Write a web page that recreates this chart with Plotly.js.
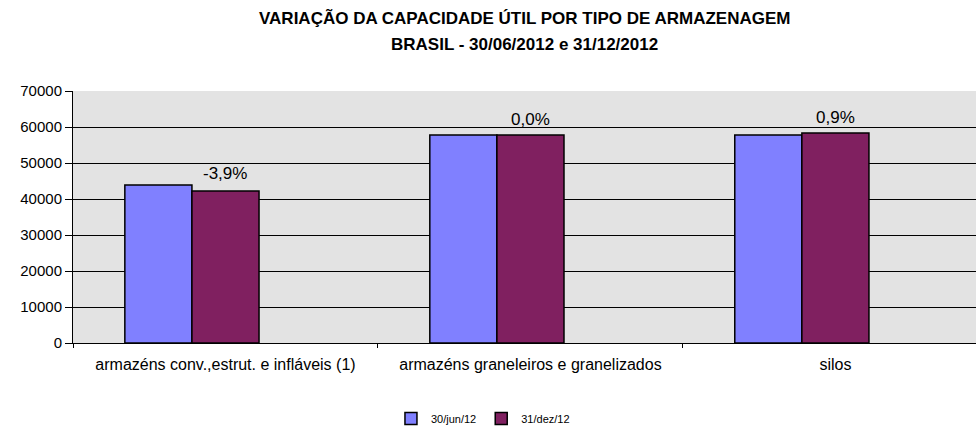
<!DOCTYPE html>
<html>
<head>
<meta charset="utf-8">
<script src="https://cdn.plot.ly/plotly-3.0.1.min.js"></script>
<style>html,body{margin:0;padding:0;background:#fff}#chart{width:976px;height:427px}</style>
</head>
<body>
<div id="chart"></div>
<script>
const categories = ["armazéns conv.,estrut. e infláveis (1)", "armazéns graneleiros e granelizados", "silos"];
const seriesNames = ["30/jun/12", "31/dez/12"];
const jun12 = [43900, 57800, 57800];
const dez12 = [42200, 57800, 58300];
const variation = ["-3,9%", "0,0%", "0,9%"];
const titleLines = ["VARIAÇÃO DA CAPACIDADE ÚTIL POR TIPO DE ARMAZENAGEM", "BRASIL - 30/06/2012 e 31/12/2012"];
const yTicks = [0, 10000, 20000, 30000, 40000, 50000, 60000, 70000];

const FONT = 'Liberation Sans, Arial, sans-serif';
const barW = 0.22;
const traces = [
  {type:'bar', name:seriesNames[0], x:categories, y:jun12, width:barW, offset:-1.5*barW,
   marker:{color:'#8080FF', line:{color:'#000', width:1.5}}, hoverinfo:'y'},
  {type:'bar', name:seriesNames[1], x:categories, y:dez12, width:barW, offset:-0.5*barW,
   marker:{color:'#802060', line:{color:'#000', width:1.5}}, hoverinfo:'y'}
];

const annotations = categories.map((c,i)=>({
  x:c, y:Math.max(jun12[i], dez12[i])*1.075, xref:'x', yref:'y', text:variation[i],
  showarrow:false, yanchor:'middle', font:{family:FONT, size:17, color:'#000'}
}));
[73, 47].forEach((s,i)=>annotations.push({
  xref:'paper', yref:'paper', x:0.5, y:1, xanchor:'center', yanchor:'middle', yshift:s,
  text:'<b>'+titleLines[i]+'</b>', showarrow:false, font:{family:FONT, size:17, color:'#000'}
}));

const layout = {
  width:976, height:427,
  margin:{l:73, r:0, t:91, b:84},
  paper_bgcolor:'#fff', plot_bgcolor:'#E3E3E3',
  font:{family:FONT, size:15, color:'#000'},
  barmode:'group',
  showlegend:true,
  legend:{orientation:'h', x:0.454, xanchor:'center', yref:'container', y:0.02, yanchor:'middle', font:{size:11}},
  xaxis:{range:[-0.5, 2.461], showline:true, linecolor:'#000', linewidth:1, ticks:'outside', tickson:'boundaries',
    ticklen:4, tickcolor:'#000', tickfont:{size:16}, ticklabelstandoff:7, fixedrange:true},
  yaxis:{range:[0,70000], tickvals:yTicks, ticktext:yTicks.map(String), showgrid:true, gridcolor:'#000', gridwidth:1,
    showline:true, linecolor:'#000', linewidth:1, ticks:'outside', ticklen:7, tickcolor:'#000', tickfont:{size:15}, zeroline:false},
  annotations:annotations
};

Plotly.newPlot('chart', traces, layout, {displayModeBar:false, staticPlot:true});
</script>
</body>
</html>
